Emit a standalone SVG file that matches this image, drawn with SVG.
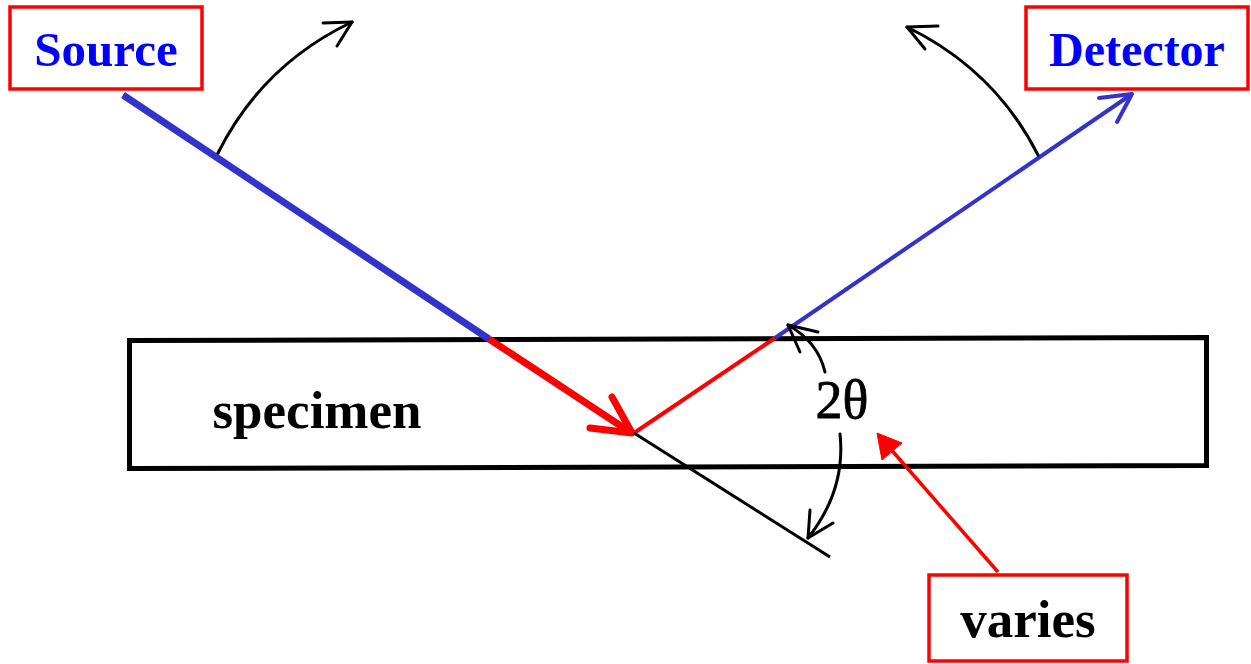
<svg xmlns="http://www.w3.org/2000/svg" width="1251" height="664" viewBox="0 0 1251 664">
<defs>
<style>
.box{fill:#fff;stroke:#ff0000;stroke-width:3.5}
.lbl{font-family:"Liberation Serif","Times New Roman",serif;font-weight:bold;font-size:48px;text-anchor:middle}
.big{font-size:53px}
.blk{fill:none;stroke:#000;stroke-width:3;stroke-linecap:round;stroke-linejoin:round}
</style>
</defs>
<rect width="1251" height="664" fill="#fff"/>
<g id="specimen">
<polygon points="129.5,340.5 1206.5,337.5 1206.5,465.5 129.5,468.5" fill="#fff" stroke="#000" stroke-width="5"/>
<text x="317" y="428" class="lbl big" fill="#000">specimen</text>
</g>
<g id="connectors">
<!-- incident beam -->
<line x1="123" y1="95" x2="489" y2="339" stroke="#3333cc" stroke-width="7"/>
<line x1="489" y1="339" x2="630" y2="432" stroke="#ff0000" stroke-width="7"/>
<polyline points="612,397 632,433 590,428" fill="none" stroke="#ff0000" stroke-width="7" stroke-linecap="round" stroke-linejoin="round"/>
<!-- reflected beam -->
<line x1="634" y1="433" x2="775" y2="338" stroke="#ff0000" stroke-width="4"/>
<line x1="775" y1="338" x2="1132" y2="94" stroke="#3333cc" stroke-width="4"/>
<polyline points="1099,98 1132,94 1117,122" fill="none" stroke="#3333cc" stroke-width="4" stroke-linecap="round" stroke-linejoin="round"/>
<!-- extension line -->
<line x1="634" y1="433" x2="830" y2="557" stroke="#000" stroke-width="3"/>
<!-- rotation arcs -->
<path class="blk" d="M218,153 Q262,65 352,22"/>
<polyline class="blk" points="323,23 352,22 337,46"/>
<path class="blk" d="M1038,155 Q995,70 907,27"/>
<polyline class="blk" points="938,26 907,27 925,49"/>
<!-- 2theta arcs -->
<path class="blk" d="M825,372 Q818,342 788,325"/>
<polyline class="blk" points="818,332 788,325 800,352"/>
<path class="blk" d="M840,434 Q846,490 808,538"/>
<polyline class="blk" points="810,510 808,538 833,523"/>
<!-- varies arrow -->
<line x1="998" y1="572" x2="888" y2="446" stroke="#ff0000" stroke-width="3.5"/>
<polygon points="877,433 902,443 882,460" fill="#ff0000" stroke="#ff0000" stroke-width="1"/>
</g>
<text x="842" y="418" font-family="Liberation Serif,'Times New Roman',serif" font-size="54" text-anchor="middle" fill="#000" stroke="#000" stroke-width="0.8">2θ</text>
<g id="source">
<rect x="10" y="7" width="192" height="82" class="box"/>
<text x="106" y="66" class="lbl" style="font-size:49px" fill="#0000ff">Source</text>
</g>
<g id="detector">
<rect x="1026" y="7" width="222" height="82" class="box"/>
<text x="1137" y="66" class="lbl" fill="#0000ff">Detector</text>
</g>
<g id="varies">
<rect x="929" y="575" width="198" height="86" class="box"/>
<text x="1028" y="637" class="lbl big" fill="#000">varies</text>
</g>
</svg>
